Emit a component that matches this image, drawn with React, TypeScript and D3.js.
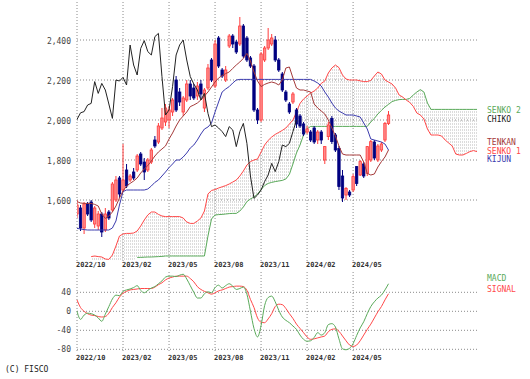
import React from "react";
import * as d3 from "d3";

const W = 530;
const H = 379;

const dateLabels = ["2022/10", "2023/02", "2023/05", "2023/08", "2023/11", "2024/02", "2024/05"];
const dateLabelIdx = [0, 13, 26, 39, 52, 65, 78];
const priceTicks = [1600, 1800, 2000, 2200, 2400];
const macdTicks = [40, 0, -40, -80];

// weekly candles, index 0..88
const opens = [1530,1560,1460,1580,1590,1480,1470,1530,1450,1540,1550,1600,1710,1650,1750,1700,1740,1750,1830,1790,1750,1790,1900,1890,1960,1990,2000,2040,2200,2140,2040,2100,2180,2160,2120,2180,2060,2160,2300,2170,2410,2250,2200,2370,2420,2390,2380,2470,2410,2310,2270,2050,2000,2300,2360,2380,2400,2300,2230,2140,2080,2090,2050,2020,1980,1940,1940,1960,1900,1940,1800,1917,2008,1925,1858,1720,1625,1640,1650,1767,1725,1780,1733,1800,1890,1800,1850,1900,1983];
const highs = [1600,1575,1590,1590,1600,1570,1545,1540,1560,1550,1690,1720,1720,1880,1780,1730,1760,1830,1840,1810,1810,1860,1920,1985,2060,2080,2070,2110,2220,2160,2120,2200,2200,2180,2190,2200,2160,2280,2310,2400,2420,2260,2270,2430,2430,2400,2515,2480,2420,2320,2280,2060,2340,2370,2460,2430,2420,2310,2240,2150,2090,2140,2060,2030,1990,1970,1950,1970,1950,1950,1870,1990,2020,1935,1870,1750,1665,1650,1730,1770,1800,1790,1870,1900,1900,1880,1890,1990,2045];
const lows = [1510,1445,1430,1520,1490,1460,1450,1415,1440,1500,1540,1590,1610,1640,1660,1690,1700,1740,1770,1700,1740,1780,1860,1880,1950,1970,1960,2020,2040,2070,2020,2090,2100,2100,2100,2110,2040,2150,2190,2160,2260,2210,2190,2360,2360,2330,2370,2310,2290,2260,2040,1980,1990,2290,2350,2370,2290,2240,2140,2090,2030,2080,1960,1960,1920,1930,1890,1880,1880,1880,1780,1900,1880,1840,1650,1590,1600,1615,1640,1670,1720,1710,1720,1790,1800,1790,1840,1890,1975];
const closes = [1575,1460,1580,1530,1500,1560,1530,1440,1530,1510,1680,1700,1630,1700,1670,1720,1710,1820,1780,1740,1800,1850,1870,1970,2010,2060,2050,2100,2050,2090,2110,2180,2120,2110,2170,2130,2150,2260,2200,2380,2270,2220,2250,2420,2380,2340,2470,2320,2300,2270,2050,2000,2330,2360,2400,2410,2300,2250,2150,2100,2040,2130,1980,1970,1930,1955,1900,1890,1940,1900,1867,1975,1892,1850,1667,1610,1658,1625,1717,1683,1792,1720,1867,1892,1810,1870,1880,1983,2025];

const tenkan = [1592,1585,1583,1583,1583,1578,1570,1530,1508,1520,1540,1570,1610,1645,1670,1683,1695,1710,1735,1755,1772,1795,1820,1840,1855,1870,1905,1935,1970,2000,2020,2040,2067,2075,2085,2100,2120,2140,2165,2190,2210,2222,2232,2240,2258,2275,2290,2308,2333,2295,2240,2195,2167,2178,2185,2190,2185,2175,2200,2260,2265,2210,2160,2150,2150,2145,2140,2080,2060,2045,2030,2000,1960,1920,1870,1830,1825,1825,1825,1825,1825,1790,1733,1725,1730,1765,1792,1815,1850];
const kijun = [1458,1455,1452,1450,1450,1450,1450,1450,1450,1450,1460,1495,1575,1642,1650,1650,1650,1650,1650,1650,1655,1670,1688,1700,1720,1740,1762,1780,1800,1800,1815,1835,1860,1875,1900,1930,1955,1965,1985,2040,2090,2140,2155,2167,2185,2200,2203,2203,2203,2203,2203,2203,2203,2203,2203,2203,2203,2203,2203,2203,2203,2203,2203,2203,2203,2203,2203,2195,2185,2170,2140,2115,2085,2060,2045,2035,2025,2025,2025,2020,2015,1985,1955,1905,1900,1895,1890,1880,1850];

const senko1Start = 4;
const senko1 = [1317,1320,1317,1315,1305,1303,1325,1370,1420,1430,1433,1433,1435,1445,1470,1500,1525,1540,1540,1528,1520,1517,1517,1517,1517,1517,1510,1490,1483,1483,1495,1510,1545,1630,1648,1652,1660,1666,1672,1680,1690,1700,1720,1745,1775,1792,1800,1805,1840,1875,1898,1915,1928,1938,1948,1960,1980,2000,2040,2083,2105,2120,2135,2145,2160,2183,2195,2235,2260,2275,2262,2225,2205,2200,2200,2200,2196,2192,2192,2198,2220,2240,2230,2200,2190,2180,2160,2125,2115,2100,2088,2068,2035,2025,2005,1955,1925,1925,1925,1920,1900,1885,1870,1830,1825,1825,1833,1842,1847,1842];
const senko2Start = 17;
const senko2 = [1313,1313,1314,1315,1315,1316,1317,1318,1320,1320,1320,1320,1320,1320,1320,1320,1320,1320,1320,1320,1420,1505,1525,1527,1528,1530,1532,1533,1533,1545,1565,1592,1605,1615,1630,1652,1672,1683,1688,1692,1695,1698,1705,1728,1780,1835,1875,1925,1955,1968,1968,1968,1968,1968,1968,1968,1968,1968,1968,1968,1968,1968,1968,1968,1968,1968,1990,2008,2030,2048,2065,2078,2092,2098,2102,2103,2103,2108,2125,2140,2152,2140,2085,2053,2053,2053,2053,2053,2053,2053,2053,2053,2053,2053,2053,2053,2053];
const chiko = [2003,2036,2042,2075,2083,2192,2133,2183,2150,2080,2008,2200,2195,2213,2175,2375,2275,2225,2358,2397,2342,2325,2417,2433,2217,2025,2050,2167,2325,2375,2400,2300,2217,2180,2150,2100,2133,2033,1967,1975,1960,1942,1917,1967,1950,1867,1942,1983,1883,1720,1608,1625,1650,1692,1725,1783,1742,1792,1875,1867,1883,1942,2000];

const macd = [0,-17,-8,-4,-5,-8,-14,-21,-6,10,26,34,33,42,45,47,50,54,44,39,44,49,52,58,64,72,74,74,73,76,78,68,54,40,28,28,37,41,39,50,55,49,54,58,53,46,48,51,36,0,-36,-54,-30,12,29,32,20,2,-12,-19,-24,-31,-38,-50,-59,-63,-62,-55,-45,-50,-45,-28,-26,-33,-58,-79,-81,-78,-68,-51,-35,-22,-5,10,20,28,34,45,58];
const signal = [24,8,0,-5,-8,-9,-11,-12,-11,-4,8,18,30,38,42,45,46,47,48,48,48,48,51,56,60,66,70,72,74,74,74,74,69,62,52,46,42,39,36,39,43,45,48,51,52,53,53,52,44,25,8,-14,-23,-24,-16,-5,10,15,14,6,-5,-15,-27,-36,-45,-54,-59,-58,-56,-54,-52,-43,-38,-37,-42,-52,-62,-71,-74,-71,-62,-50,-38,-27,-14,-1,10,24,37];

const FONT = "'DejaVu Sans Mono', monospace";
const C_TENKAN = "#a53a3a";
const C_KIJUN = "#3c3cae";
const C_S1 = "#ff4848";
const C_S2 = "#5aaa5a";
const C_CHIKO = "#222222";
const C_UP = "#ff3c3c";
const C_UPFILL = "#ff8a8a";
const C_DOWN = "#000080";
const C_GRID = "#8a8a8a";

export default function App() {
  const x = d3.scaleLinear().domain([0, 113]).range([77, 477]);
  const y = d3.scaleLinear().domain([1300, 2590]).range([260, 2]);
  const ym = d3.scaleLinear().domain([-80, 40]).range([349.3, 292.3]);
  const pxL = 77, pxR = 477;

  const toPts = (arr: number[], start = 0): [number, number][] => arr.map((v, k) => [start + k, v]);
  const line = d3.line<[number, number]>().x((d) => x(d[0])).y((d) => y(d[1]));
  const lineM = d3.line<[number, number]>().x((d) => x(d[0])).y((d) => ym(d[1])).curve(d3.curveMonotoneX);

  const cloud: { i: number; a: number; b: number }[] = senko1.map((v, k) => {
    const i = senko1Start + k;
    const j = i - senko2Start;
    return { i, a: v, b: j >= 0 ? senko2[j] : y.domain()[0] };
  });
  const area = d3
    .area<{ i: number; a: number; b: number }>()
    .x((d) => x(d.i))
    .y0((d) => y(d.a))
    .y1((d) => y(d.b));

  const bw = 2.4;

  return (
    <svg width={W} height={H} style={{ position: "absolute", left: 0, top: 0, background: "#fff" }} fontFamily={FONT}>
      <defs>
        <pattern id="hatch" width="2" height="3" patternUnits="userSpaceOnUse">
          <rect x="0" y="0" width="0.8" height="2" fill="#d4d4d4" />
        </pattern>
        <clipPath id="mainClip">
          <rect x={pxL} y={2} width={pxR - pxL + 2} height={258} />
        </clipPath>
      </defs>
      <rect x={0} y={0} width={W} height={H} fill="#fff" />

      {/* main grid */}
      {priceTicks.map((t) => (
        <g key={"p" + t}>
          <line x1={pxL} x2={pxR} y1={y(t)} y2={y(t)} stroke={C_GRID} strokeDasharray="1,2" />
          <text x={71} y={y(t) + 4} fontSize={8} fill="#444" textAnchor="end">
            {d3.format(",")(t)}
          </text>
        </g>
      ))}
      {dateLabelIdx.map((d, k) => (
        <g key={"v" + k}>
          <line x1={x(d)} x2={x(d)} y1={2} y2={262} stroke={C_GRID} strokeDasharray="1,2" />
          <line x1={x(d)} x2={x(d)} y1={272} y2={352} stroke={C_GRID} strokeDasharray="1,2" />
          <text x={x(d) - 1} y={267} fontSize={7} fontWeight="bold" fill="#333">
            {dateLabels[k]}
          </text>
          <text x={x(d) - 1} y={360} fontSize={7} fontWeight="bold" fill="#333">
            {dateLabels[k]}
          </text>
        </g>
      ))}

      <g clipPath="url(#mainClip)">
        <path d={area(cloud) || ""} fill="url(#hatch)" />
        <path d={line(toPts(senko2, senko2Start)) || ""} fill="none" stroke={C_S2} strokeWidth={1} />
        <path d={line(toPts(senko1, senko1Start)) || ""} fill="none" stroke={C_S1} strokeWidth={1} />
        {closes.map((c, i) => {
          const o = opens[i];
          const up = c >= o;
          const col = up ? C_UP : C_DOWN;
          const top = y(Math.max(o, c));
          const hgt = Math.max(1, Math.abs(y(o) - y(c)));
          return (
            <g key={"c" + i}>
              <line x1={x(i)} x2={x(i)} y1={y(highs[i])} y2={y(lows[i])} stroke={col} strokeWidth={1} />
              <rect
                x={x(i) - bw / 2}
                y={top}
                width={bw}
                height={hgt}
                fill={up ? C_UPFILL : C_DOWN}
                stroke={col}
                strokeWidth={0.8}
              />
            </g>
          );
        })}
        <path d={line(toPts(kijun)) || ""} fill="none" stroke={C_KIJUN} strokeWidth={1} />
        <path d={line(toPts(tenkan)) || ""} fill="none" stroke={C_TENKAN} strokeWidth={1} />
        <path d={line(toPts(chiko)) || ""} fill="none" stroke={C_CHIKO} strokeWidth={1} />
      </g>

      {/* legend main */}
      <text x={487} y={113} fontSize={8} fill={C_S2}>SENKO 2</text>
      <text x={487} y={121.5} fontSize={8} fill="#222">CHIKO</text>
      <text x={487} y={145} fontSize={8} fill={C_TENKAN}>TENKAN</text>
      <text x={487} y={153.5} fontSize={8} fill={C_S1}>SENKO 1</text>
      <text x={487} y={162} fontSize={8} fill={C_KIJUN}>KIJUN</text>

      {/* MACD panel */}
      {macdTicks.map((t) => (
        <g key={"m" + t}>
          <line x1={pxL} x2={pxR} y1={ym(t)} y2={ym(t)} stroke={C_GRID} strokeDasharray="1,2" />
          <text x={71} y={ym(t) + 3} fontSize={8} fill="#444" textAnchor="end">
            {t}
          </text>
        </g>
      ))}
      <path d={lineM(toPts(signal)) || ""} fill="none" stroke={C_S1} strokeWidth={1} />
      <path d={lineM(toPts(macd)) || ""} fill="none" stroke={C_S2} strokeWidth={1} />
      <text x={487} y={280.5} fontSize={8} fill={C_S2}>MACD</text>
      <text x={487} y={292} fontSize={8} fill={C_S1}>SIGNAL</text>

      <text x={5} y={372} fontSize={8} fill="#222">(C) FISCO</text>
    </svg>
  );
}
